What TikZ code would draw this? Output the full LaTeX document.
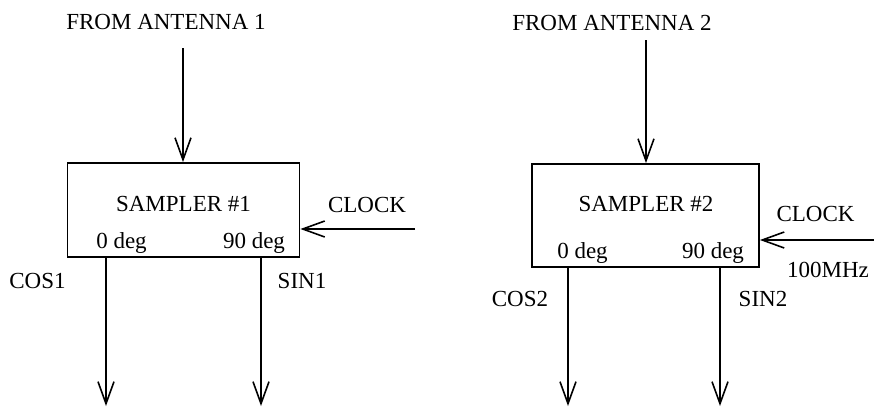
\documentclass[tikz,border=0pt]{standalone}
\usepackage{fontspec}
\setmainfont{Liberation Serif}
\usetikzlibrary{arrows.meta}
\begin{document}
\begin{tikzpicture}[x=0.5pt,y=-0.5pt,
  lbl/.style={inner sep=0pt,font=\fontsize{11.5}{13}\selectfont},
  blk/.style={draw,line width=0.9pt,inner sep=0pt,rectangle},
  arr/.style={line width=0.8pt,-{Straight Barb[length=11pt,width=8pt,line width=0.8pt]}},
  ln/.style={line width=0.8pt}]
\useasboundingbox (0,0) rectangle (874,409);
% boxes
\node[blk,minimum width=116pt,minimum height=47pt] (b1) at (183.5,210) {};
\node[blk,minimum width=113.5pt,minimum height=51.5pt] (b2) at (645.5,215.5) {};
% labels
\node[lbl] (ant1) at (166,22) {FROM ANTENNA 1};
\node[lbl] (ant2) at (612,23) {FROM ANTENNA 2};
\node[lbl] (s1) at (183.5,204) {SAMPLER \#1};
\node[lbl] (s2) at (646,204) {SAMPLER \#2};
\node[lbl] (z1) at (121.5,243) {0 deg};
\node[lbl] (n1) at (254,243) {90 deg};
\node[lbl] (z2) at (582.5,253) {0 deg};
\node[lbl] (n2) at (713,253) {90 deg};
\node[lbl] (clk1) at (367,205) {CLOCK};
\node[lbl] (clk2) at (815.5,214) {CLOCK};
\node[lbl] (mhz) at (828,270) {100MHz};
\node[lbl] (cos1) at (37.5,281) {COS1};
\node[lbl] (sin1) at (302,281) {SIN1};
\node[lbl] (cos2) at (520,299) {COS2};
\node[lbl] (sin2) at (763,299) {SIN2};
% free ends
\coordinate (a1) at (183,48);
\coordinate (a2) at (646,40);
\coordinate (c1) at (415,229);
\coordinate (c2) at (874,240);
\coordinate (o1) at (106,406);
\coordinate (o2) at (261,406);
\coordinate (o3) at (568,406);
\coordinate (o4) at (720,406);
% connectors
\draw[arr] (a1) -- (a1 |- b1.north);
\draw[arr] (a2) -- (a2 |- b2.north);
\draw[arr] (c1) -- (c1 -| b1.east);
\draw[arr] (c2) -- (c2 -| b2.east);
\draw[arr] (o1 |- b1.south) -- (o1);
\draw[arr] (o2 |- b1.south) -- (o2);
\draw[arr] (o3 |- b2.south) -- (o3);
\draw[arr] (o4 |- b2.south) -- (o4);
\end{tikzpicture}
\end{document}
